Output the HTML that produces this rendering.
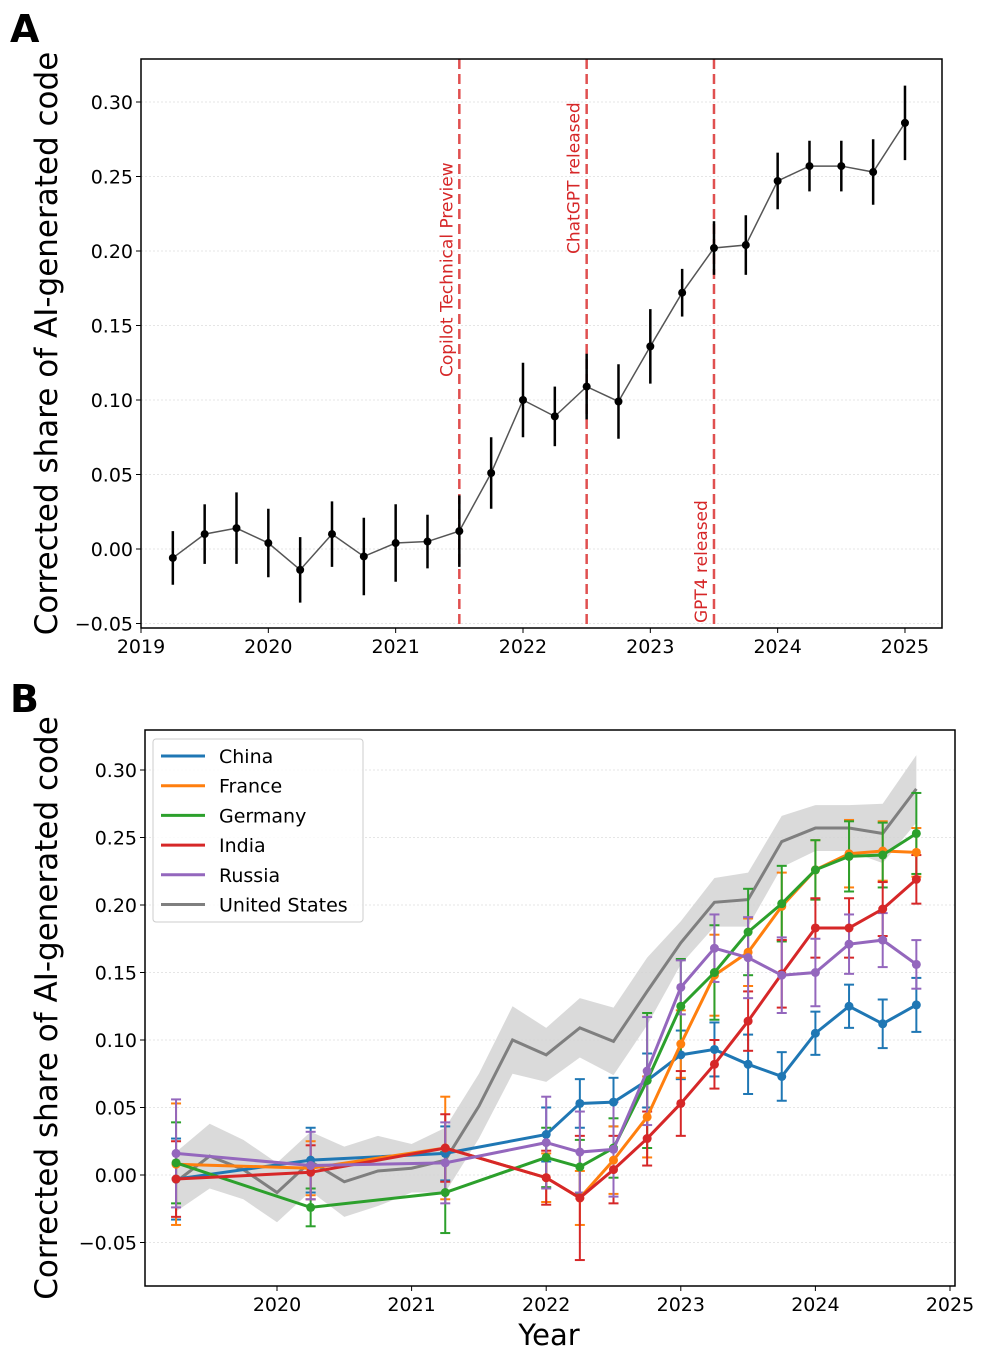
<!DOCTYPE html>
<html><head><meta charset="utf-8"><style>
html,body{margin:0;padding:0;background:#fff}
svg text{font-family:"DejaVu Sans","Liberation Sans",sans-serif}
</style></head><body>
<svg id="svg" width="986" height="1351" xmlns="http://www.w3.org/2000/svg">
<text x="10" y="42" font-size="38" font-weight="bold">A</text>
<text x="10" y="712" font-size="38" font-weight="bold">B</text>
<g id="ga"></g>
<g id="gb"></g>
</svg>
<script>
const aYears=[2019.25,2019.5,2019.75,2020,2020.25,2020.5,2020.75,2021,2021.25,2021.5,2021.75,2022,2022.25,2022.5,2022.75,2023,2023.25,2023.5,2023.75,2024,2024.25,2024.5,2024.75,2025];
const aVals=[-0.006,0.010,0.014,0.004,-0.014,0.010,-0.005,0.004,0.005,0.012,0.051,0.100,0.089,0.109,0.099,0.136,0.172,0.202,0.204,0.247,0.257,0.257,0.253,0.286];
const aErr=[0.018,0.020,0.024,0.023,0.022,0.022,0.026,0.026,0.018,0.024,0.024,0.025,0.020,0.022,0.025,0.025,0.016,0.018,0.020,0.019,0.017,0.017,0.022,0.025];
const yTicks=[-0.05,0.00,0.05,0.10,0.15,0.20,0.25,0.30];
const yTickLabels=["\u22120.05","0.00","0.05","0.10","0.15","0.20","0.25","0.30"];
const aXTicks=[2019,2020,2021,2022,2023,2024,2025];
const events=[2021.5,2022.5,2023.5];
const eventLabels=["Copilot Technical Preview","ChatGPT released","GPT4 released"];

const usYears=[2019.25,2019.5,2019.75,2020,2020.25,2020.5,2020.75,2021,2021.25,2021.5,2021.75,2022,2022.25,2022.5,2022.75,2023,2023.25,2023.5,2023.75,2024,2024.25,2024.5,2024.75];
const usVals=[-0.005,0.014,0.004,-0.013,0.010,-0.005,0.003,0.005,0.011,0.051,0.100,0.089,0.109,0.099,0.136,0.172,0.202,0.204,0.247,0.257,0.257,0.253,0.286];
const usErr=[0.022,0.024,0.022,0.022,0.022,0.026,0.026,0.018,0.024,0.024,0.025,0.020,0.022,0.025,0.025,0.016,0.018,0.020,0.019,0.017,0.017,0.022,0.025];
const cYears=[2019.25,2020.25,2021.25,2022,2022.25,2022.5,2022.75,2023,2023.25,2023.5,2023.75,2024,2024.25,2024.5,2024.75];
const countries=["China","France","Germany","India","Russia"];
const colors=["#1f77b4","#ff7f0e","#2ca02c","#d62728","#9467bd"];
const chinaVals=[-0.003,0.011,0.016,0.030,0.053,0.054,0.070,0.089,0.093,0.082,0.073,0.105,0.125,0.112,0.126];
const franceVals=[0.008,0.005,0.020,-0.002,-0.017,0.011,0.043,0.097,0.148,0.165,0.199,0.226,0.238,0.240,0.239];
const germanyVals=[0.009,-0.024,-0.013,0.013,0.006,0.020,0.070,0.125,0.150,0.180,0.201,0.226,0.236,0.237,0.253];
const indiaVals=[-0.003,0.002,0.020,-0.002,-0.017,0.004,0.027,0.053,0.082,0.114,0.149,0.183,0.183,0.197,0.219];
const russiaVals=[0.016,0.007,0.009,0.024,0.017,0.019,0.077,0.139,0.168,0.161,0.148,0.150,0.171,0.174,0.156];
const chinaErr=[0.030,0.024,0.020,0.020,0.018,0.018,0.020,0.018,0.020,0.022,0.018,0.016,0.016,0.018,0.020];
const franceErr=[0.045,0.020,0.038,0.018,0.020,0.025,0.030,0.025,0.030,0.025,0.025,0.022,0.025,0.022,0.018];
const germanyErr=[0.030,0.014,0.030,0.022,0.020,0.022,0.050,0.035,0.035,0.032,0.028,0.022,0.026,0.024,0.030];
const indiaErr=[0.028,0.020,0.025,0.020,0.046,0.025,0.020,0.024,0.018,0.022,0.025,0.022,0.022,0.020,0.018];
const russiaErr=[0.040,0.025,0.030,0.034,0.030,0.035,0.040,0.020,0.025,0.030,0.028,0.025,0.022,0.020,0.018];
const cVals=[chinaVals,franceVals,germanyVals,indiaVals,russiaVals];
const cErr=[chinaErr,franceErr,germanyErr,indiaErr,russiaErr];
const bXTicks=[2020,2021,2022,2023,2024,2025];

const NS="http://www.w3.org/2000/svg";
function mk(parent,tag,attrs,name,text){const e=document.createElementNS(NS,tag);for(const k in attrs)e.setAttribute(k,attrs[k]);


if(text!==undefined)e.textContent=text;parent.appendChild(e);return e;}

// Panel A
const ga=document.getElementById('ga');
const axA={l:141,r:942,t:59,b:628};
const xA=v=>141+(v-2019)*127.33;
const yA=v=>549-v*1490;
yTicks.forEach((t,i)=>{
 mk(ga,'line',{x1:axA.l,x2:axA.r,y1:yA(t),y2:yA(t),stroke:'#ddd','stroke-width':0.8,'stroke-dasharray':'2,2'},'grid-line-a');
 mk(ga,'line',{x1:axA.l-5,x2:axA.l,y1:yA(t),y2:yA(t),stroke:'#000','stroke-width':1},'y-tick-a');
 mk(ga,'text',{x:axA.l-8,y:yA(t)+7,'font-size':19,'text-anchor':'end'},'y-tick-label-a',yTickLabels[i]);
});
aXTicks.forEach(t=>{
 mk(ga,'line',{x1:xA(t),x2:xA(t),y1:axA.b,y2:axA.b+5,stroke:'#000'},'x-tick-a');
 mk(ga,'text',{x:xA(t),y:axA.b+25,'font-size':19,'text-anchor':'middle'},'x-tick-label-a',String(t));
});
const evY=[377,254,623];
events.forEach((e,i)=>{
 mk(ga,'line',{x1:xA(e),x2:xA(e),y1:axA.t,y2:axA.b,stroke:'#e05050','stroke-width':2.5,'stroke-dasharray':'10,5'},'event-line');
 mk(ga,'text',{x:0,y:0,'font-size':17,fill:'#d62728',transform:`translate(${xA(e)-7},${evY[i]}) rotate(-90)`},'event-label',eventLabels[i]);
});
mk(ga,'polyline',{points:aYears.map((y,i)=>xA(y)+','+yA(aVals[i])).join(' '),fill:'none',stroke:'#555','stroke-width':1.5},'trend-line-a');
aYears.forEach((y,i)=>{
 mk(ga,'line',{x1:xA(y),x2:xA(y),y1:yA(aVals[i]-aErr[i]),y2:yA(aVals[i]+aErr[i]),stroke:'#000','stroke-width':2.5},'error-bar-a');
 mk(ga,'circle',{cx:xA(y),cy:yA(aVals[i]),r:4,fill:'#000'},'point-a');
});
mk(ga,'rect',{x:axA.l,y:axA.t,width:axA.r-axA.l,height:axA.b-axA.t,fill:'none',stroke:'#000','stroke-width':1.5},'axes-frame-a');
mk(ga,'text',{x:0,y:0,'font-size':31,'text-anchor':'middle',transform:`translate(57,${(axA.t+axA.b)/2}) rotate(-90)`},'y-axis-title-a','Corrected share of AI-generated code');

// Panel B
const gb=document.getElementById('gb');
const axB={l:145,r:955,t:730,b:1286};
const xB=v=>277+(v-2020)*134.6;
const yB=v=>1175-v*1350;
yTicks.forEach((t,i)=>{
 mk(gb,'line',{x1:axB.l,x2:axB.r,y1:yB(t),y2:yB(t),stroke:'#ddd','stroke-width':0.8,'stroke-dasharray':'2,2'},'grid-line-b');
 mk(gb,'line',{x1:axB.l-5,x2:axB.l,y1:yB(t),y2:yB(t),stroke:'#000'},'y-tick-b');
 mk(gb,'text',{x:axB.l-8,y:yB(t)+7,'font-size':19,'text-anchor':'end'},'y-tick-label-b',yTickLabels[i]);
});
bXTicks.forEach(t=>{
 mk(gb,'line',{x1:xB(t),x2:xB(t),y1:axB.b,y2:axB.b+5,stroke:'#000'},'x-tick-b');
 mk(gb,'text',{x:xB(t),y:axB.b+25,'font-size':19,'text-anchor':'middle'},'x-tick-label-b',String(t));
});
const band=usYears.map((y,i)=>xB(y)+','+yB(usVals[i]+usErr[i])).concat(usYears.slice().reverse().map((y,j)=>{const i=usYears.length-1-j;return xB(y)+','+yB(usVals[i]-usErr[i]);}));
mk(gb,'polygon',{points:band.join(' '),fill:'#d3d3d3',opacity:0.85},'us-confidence-band');
mk(gb,'polyline',{points:usYears.map((y,i)=>xB(y)+','+yB(usVals[i])).join(' '),fill:'none',stroke:'#7f7f7f','stroke-width':3},'us-line');
countries.forEach((c,k)=>{
 const vals=cVals[k],err=cErr[k],col=colors[k];
 cYears.forEach((y,i)=>{
  const x=xB(y),y1=yB(vals[i]-err[i]),y2=yB(vals[i]+err[i]);
  mk(gb,'line',{x1:x,x2:x,y1:y1,y2:y2,stroke:col,'stroke-width':2},'error-bar-'+c.toLowerCase());
  mk(gb,'line',{x1:x-5,x2:x+5,y1:y1,y2:y1,stroke:col,'stroke-width':2},'error-cap-'+c.toLowerCase());
  mk(gb,'line',{x1:x-5,x2:x+5,y1:y2,y2:y2,stroke:col,'stroke-width':2},'error-cap-'+c.toLowerCase());
 });
});
countries.forEach((c,k)=>{
 const vals=cVals[k],col=colors[k];
 mk(gb,'polyline',{points:cYears.map((y,i)=>xB(y)+','+yB(vals[i])).join(' '),fill:'none',stroke:col,'stroke-width':3},'line-'+c.toLowerCase());
 cYears.forEach((y,i)=>mk(gb,'circle',{cx:xB(y),cy:yB(vals[i]),r:4.5,fill:col},'point-'+c.toLowerCase()));
});
mk(gb,'rect',{x:axB.l,y:axB.t,width:axB.r-axB.l,height:axB.b-axB.t,fill:'none',stroke:'#000','stroke-width':1.5},'axes-frame-b');
const lg=mk(gb,'g',{},'legend');
mk(lg,'rect',{x:153,y:739,width:210,height:183,rx:3,fill:'#fff','fill-opacity':0.85,stroke:'#ccc'},'legend-box');
const legNames=countries.concat(["United States"]),legCols=colors.concat(["#7f7f7f"]);
legNames.forEach((n,i)=>{
 const y=756+i*29.7;
 mk(lg,'line',{x1:161,x2:205,y1:y,y2:y,stroke:legCols[i],'stroke-width':3},'legend-swatch');
 mk(lg,'text',{x:219,y:y+7,'font-size':19},'legend-entry',n);
});
mk(gb,'text',{x:0,y:0,'font-size':31,'text-anchor':'middle',transform:`translate(57,${(axB.t+axB.b)/2}) rotate(-90)`},'y-axis-title-b','Corrected share of AI-generated code');
mk(gb,'text',{x:549,y:1345,'font-size':29,'text-anchor':'middle'},'x-axis-title-b','Year');
</script>
</body></html>
